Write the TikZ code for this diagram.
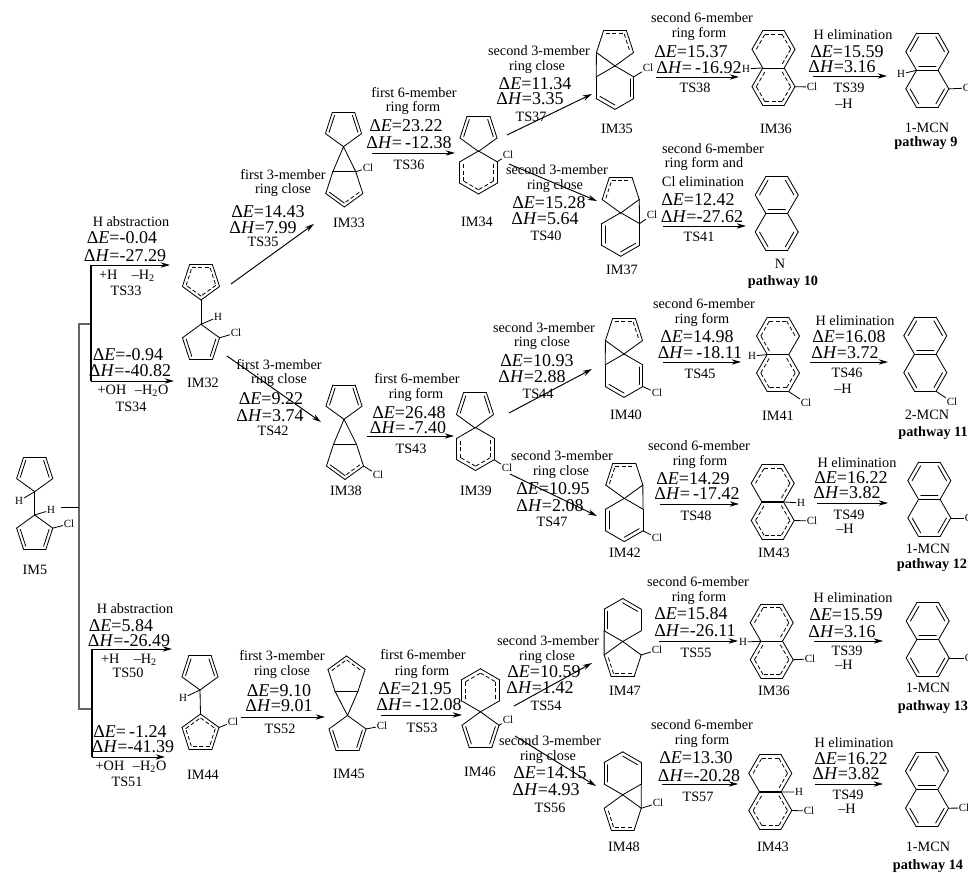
\documentclass[tikz,border=0pt]{standalone}
\usepackage{fontspec}
\setmainfont{Liberation Serif}
\usetikzlibrary{calc,arrows.meta}
\newcounter{lb}
\tikzset{
  bond/.style={line width=0.62pt,black,line cap=round},
  dbond/.style={line width=0.6pt,black,dash pattern=on 3pt off 1.8pt},
  rx/.style={line width=0.72pt,black,-{Stealth[length=7pt,width=4pt]}},
  trunk/.style={line width=0.8pt,black},
  gtrunk/.style={line width=1.3pt,black!60},
  small/.style={inner sep=0pt,font=\fontsize{10.7}{12}\selectfont},
  big/.style={inner sep=0pt,font=\fontsize{13.5}{14}\selectfont},
  boldlab/.style={inner sep=0pt,font=\fontsize{10.7}{12}\selectfont\bfseries},
  atomlab/.style={inner sep=0.6pt,font=\fontsize{8.2}{9}\selectfont}
}
\newcommand{\tlab}[3]{\stepcounter{lb}\node[small] (s\arabic{lb}) at (#1,#2) {#3};}
\newcommand{\blab}[3]{\stepcounter{lb}\node[big] (b\arabic{lb}) at (#1,#2) {#3};}
\newcommand{\plab}[3]{\stepcounter{lb}\node[boldlab] (p\arabic{lb}) at (#1,#2) {#3};}
\newcommand{\enE}[3]{\blab{#1}{#2}{Δ\textit{E}=#3}}
\newcommand{\enH}[3]{\blab{#1}{#2}{Δ\textit{H}=#3}}
\newcommand{\arw}[5]{\coordinate (#1s) at (#2,#3); \coordinate (#1e) at (#4,#5); \draw[rx] (#1s) -- (#1e);}
% name, cx, cy, r, n, start angle, edge types (s solid, d double, h solid + dashed inner)
\newcommand{\rng}[7]{%
  \coordinate (#1c) at (#2,#3);
  \foreach \ii in {1,...,#5} {
    \coordinate (#1\ii) at ({#2+#4*cos(#6+(\ii-1)*360/#5)},{#3+#4*sin(#6+(\ii-1)*360/#5)});
  }
  \foreach \ty [count=\ii] in {#7} {
    \pgfmathtruncatemacro\jj{mod(\ii,#5)+1}
    \draw[bond] (#1\ii) -- (#1\jj);
    \if d\ty \draw[bond] ($(#1\ii)!0.2!(#1c)$) -- ($(#1\jj)!0.2!(#1c)$); \fi
    \if h\ty \draw[dbond] ($(#1\ii)!0.2!(#1c)$) -- ($(#1\jj)!0.2!(#1c)$); \fi
  }
}
\newcommand{\naph}[4]{%
  \rng{#1u}{#2}{#3}{21.5}{6}{0}{s,d,s,d,s,d}
  \rng{#1l}{#2}{#4}{21.5}{6}{0}{d,s,d,s,s,s}
}
\newcommand{\dihyd}[4]{%
  \rng{#1u}{#2}{#3}{21.5}{6}{0}{h,s,s,h,h,h}
  \rng{#1l}{#2}{#4}{21.5}{6}{0}{h,h,h,h,s,h}
}
\newcommand{\atm}[5]{\node[atomlab] (#1) at (#2,#3) {#4}; \draw[bond] (#5) -- (#1);}
\begin{document}
\begin{tikzpicture}[x=0.75pt,y=-0.75pt]
\useasboundingbox (0,0) rectangle (968,873);

% ---------- IM5 and trunks
\rng{ma}{34.7}{472.7}{19}{5}{90}{s,d,s,d,s}
\rng{mb}{34.7}{534}{19}{5}{270}{s,d,s,d,s}
\draw[bond] (ma1) -- (mb1);
\atm{mah}{19}{501}{H}{ma1}
\atm{mbh}{51}{510}{H}{mb1}
\atm{mbc}{69}{524}{Cl}{mb2}
\tlab{35}{570}{IM5}
\coordinate (st) at (61,507.5);
\coordinate (tr1) at (79,324);
\coordinate (tr2) at (79,709);
\coordinate (tr3) at (79,507.5);
\coordinate (tr4) at (91,324);
\coordinate (tr5) at (92,709);
\draw[gtrunk] (tr4) -- (tr1) -- (tr2) -- (tr5);
\draw[trunk] (st) -- (tr3);
\coordinate (v1a) at (91,265);
\coordinate (v1b) at (91,381);
\coordinate (v1c) at (170,265);
\coordinate (v1d) at (174,381);
\draw[trunk] (v1a) -- (v1b);
\draw[rx] (v1a) -- (v1c);
\draw[rx] (v1b) -- (v1d);
\coordinate (v2a) at (92,649);
\coordinate (v2b) at (92,757);
\coordinate (v2c) at (172,649);
\coordinate (v2d) at (165,757);
\draw[trunk] (v2a) -- (v2b);
\draw[rx] (v2a) -- (v2c);
\draw[rx] (v2b) -- (v2d);
\tlab{131}{222}{H abstraction}
\enE{122}{238}{-0.04}
\enH{125}{256}{-27.29}
\tlab{127}{276}{+H\hspace{1em}–H\textsubscript{2}}
\tlab{126}{291}{TS33}
\enE{128}{355}{-0.94}
\enH{130}{371}{-40.82}
\tlab{133}{391}{+OH\hspace{0.6em}–H\textsubscript{2}O}
\tlab{131}{407}{TS34}
\tlab{135}{609}{H abstraction}
\enE{121}{626}{5.84}
\enH{129}{641}{-26.49}
\tlab{129}{660}{+H\hspace{1em}–H\textsubscript{2}}
\tlab{128}{673}{TS50}
\enE{130}{732}{\,-1.24}
\enH{133}{747}{-41.39}
\tlab{131}{767}{+OH\hspace{0.6em}–H\textsubscript{2}O}
\tlab{127}{782}{TS51}

% ---------- IM32
\rng{a}{201}{280.5}{19.5}{5}{90}{h,h,h,h,h}
\rng{b}{201}{343.8}{19.5}{5}{270}{s,d,s,d,s}
\draw[bond] (a1) -- (b1);
\atm{bh}{218}{317}{H}{b1}
\atm{bc}{236}{333}{Cl}{b2}
\tlab{203}{383}{IM32}
\arw{t35}{231}{284}{314}{224}
\tlab{283}{175}{first 3-member}
\tlab{283}{190}{ring close}
\enE{268}{212}{14.43}
\enH{263}{228}{7.99}
\tlab{263}{242}{TS35}
\arw{t42}{227}{356}{321}{422}
\tlab{279}{365}{first 3-member}
\tlab{279}{380}{ring close}
\enE{271}{399}{9.22}
\enH{270}{416}{3.74}
\tlab{273}{431}{TS42}

% ---------- IM33
\rng{c}{343.5}{127.7}{19}{5}{90}{s,d,s,d,s}
\rng{d}{344.3}{187.5}{19.5}{5}{90}{d,s,s,s,h}
\draw[bond] (d3) -- (c1) -- (d4);
\atm{dc}{368}{168}{Cl}{d4}
\tlab{349}{223}{IM33}
\arw{t36}{372}{153}{455}{153}
\tlab{414}{93}{first 6-member}
\tlab{413}{108}{ring form}
\enE{406}{126}{23.22}
\enH{409}{143}{\,-12.38}
\tlab{409}{165}{TS36}

% ---------- IM34
\rng{e}{478.5}{132}{19.5}{5}{90}{s,d,s,d,s}
\rng{f}{478.5}{172.5}{21.5}{6}{270}{s,h,h,h,h,s}
\atm{fc}{508}{155}{Cl}{f2}
\tlab{477}{222}{IM34}
\arw{t37}{507}{135}{592}{94}
\tlab{539}{51}{second 3-member}
\tlab{537}{67}{ring close}
\enE{535}{84}{11.34}
\enH{530}{99}{3.35}
\tlab{531}{117}{TS37}
\arw{t40}{509}{164}{597}{201}
\tlab{557}{170}{second 3-member}
\tlab{555}{186}{ring close}
\enE{549}{203}{15.28}
\enH{545}{219}{5.64}
\tlab{546}{236}{TS40}

% ---------- IM35
\rng{g}{615}{46.5}{19.5}{5}{90}{s,s,h,h,s}
\rng{h}{615}{87.7}{21.7}{6}{270}{s,d,s,d,s,s}
\draw[bond] (g2) -- (h6);
\atm{hc}{648}{68}{Cl}{h2}
\tlab{617}{129}{IM35}
\arw{t38}{656}{77}{739}{77}
\tlab{702}{18}{second 6-member}
\tlab{699}{34}{ring form}
\enE{691}{52}{15.37}
\enH{699}{68}{\,-16.92}
\tlab{695}{88}{TS38}

% ---------- IM36 (top)
\dihyd{i}{773.5}{49.3}{86.7}
\atm{ih}{746}{69}{H}{iu3}
\atm{ic}{812}{87}{Cl}{il1}
\tlab{776}{129}{IM36}
\arw{t39}{813}{76}{887}{76}
\tlab{853}{35}{H elimination}
\enE{847}{52}{15.59}
\enH{842}{67}{3.16}
\tlab{849}{88}{TS39}
\tlab{844}{104}{–H}

% ---------- 1-MCN pathway 9
\naph{j}{927.3}{51.7}{88.9}
\atm{jh}{901}{74}{H}{ju3}
\atm{jc}{968}{88}{Cl}{jl1}
\tlab{927}{128}{1-MCN}
\plab{926}{143}{pathway 9}

% ---------- IM37
\rng{k}{620.7}{193.5}{19.5}{5}{90}{s,h,h,s,s}
\rng{l}{620.7}{234.5}{21.8}{6}{270}{s,s,d,s,d,s}
\draw[bond] (k5) -- (l2);
\atm{lc}{652}{215}{Cl}{l2}
\tlab{622}{270}{IM37}
\arw{t41}{663}{226}{746}{226}
\tlab{713}{149}{second 6-member}
\tlab{704}{164}{ring form and}
\tlab{703}{182}{Cl elimination}
\enE{698}{200}{12.42}
\enH{702}{217}{-27.62}
\tlab{699}{237}{TS41}

% ---------- N pathway 10
\naph{n}{776.7}{195}{232}
\tlab{780}{264}{N}
\plab{783}{282}{pathway 10}

% ---------- IM38
\rng{o}{344}{400.3}{19}{5}{90}{s,d,s,d,s}
\rng{p}{345}{460}{19.5}{5}{90}{d,s,s,s,h}
\draw[bond] (p3) -- (o1) -- (p4);
\atm{pc}{378}{475}{Cl}{p5}
\tlab{346}{491}{IM38}
\arw{t43}{367}{436}{454}{436}
\tlab{417}{379}{first 6-member}
\tlab{416}{395}{ring form}
\enE{409}{413}{26.48}
\enH{408}{428}{\,-7.40}
\tlab{411}{449}{TS43}

% ---------- IM39
\rng{q}{475}{408.5}{19.5}{5}{90}{s,d,s,d,s}
\rng{r}{475.5}{449}{21.5}{6}{270}{s,h,h,h,h,s}
\atm{rc}{507}{468}{Cl}{r3}
\tlab{476}{491}{IM39}
\arw{t44}{509}{413}{592}{369}
\tlab{544}{328}{second 3-member}
\tlab{542}{343}{ring close}
\enE{537}{361}{10.93}
\enH{532}{377}{2.88}
\tlab{538}{394}{TS44}
\arw{t47}{510}{474}{597}{516}
\tlab{562}{456}{second 3-member}
\tlab{561}{472}{ring close}
\enE{553}{489}{10.95}
\enH{550}{506}{2.08}
\tlab{552}{522}{TS47}

% ---------- IM40
\rng{s}{624}{334.5}{19.5}{5}{90}{s,s,h,h,s}
\rng{u}{624}{375.7}{21.7}{6}{270}{s,d,s,d,s,s}
\draw[bond] (s2) -- (u6);
\atm{uc}{657}{393}{Cl}{u3}
\tlab{626}{415}{IM40}
\arw{t45}{663}{362}{741}{362}
\tlab{704}{304}{second 6-member}
\tlab{702}{320}{ring form}
\enE{697}{337}{14.98}
\enH{700}{353}{\,-18.11}
\tlab{700}{374}{TS45}

% ---------- IM41
\rng{vu}{778}{336}{21.5}{6}{0}{s,s,h,h,h,h}
\rng{vl}{778}{373}{21.5}{6}{0}{h,h,h,h,s,h}
\atm{vh}{752}{356}{H}{vu3}
\atm{vc}{806}{403}{Cl}{vl2}
\tlab{778}{416}{IM41}
\arw{t46}{810}{362}{888}{362}
\tlab{855}{321}{H elimination}
\enE{849}{337}{16.08}
\enH{845}{353}{3.72}
\tlab{847}{373}{TS46}
\tlab{843}{389}{–H}

% ---------- 2-MCN pathway 11
\naph{w}{925.3}{335.7}{372.7}
\atm{wc}{952}{402}{Cl}{wl2}
\tlab{927}{415}{2-MCN}
\plab{933}{433}{pathway 11}

% ---------- IM42
\rng{x}{624.3}{479}{19.5}{5}{90}{s,h,h,s,s}
\rng{y}{624.3}{520}{21.6}{6}{270}{s,s,d,s,d,s}
\draw[bond] (x5) -- (y2);
\atm{yc}{657}{538}{Cl}{y3}
\tlab{625}{553}{IM42}
\arw{t48}{660}{504}{739}{504}
\tlab{699}{446}{second 6-member}
\tlab{700}{462}{ring form}
\enE{693}{479}{14.29}
\enH{697}{494}{\,-17.42}
\tlab{696}{516}{TS48}

% ---------- IM43 (row 12)
\dihyd{z}{772.7}{483.3}{520.5}
\atm{zh}{801}{503}{H}{zu2}
\atm{zc}{812}{521}{Cl}{zl1}
\tlab{774}{553}{IM43}
\arw{t49}{817}{503}{888}{503}
\tlab{857}{463}{H elimination}
\enE{851}{478}{16.22}
\enH{847}{493}{3.82}
\tlab{849}{515}{TS49}
\tlab{845}{529}{–H}

% ---------- 1-MCN pathway 12
\naph{aa}{929.3}{480.7}{518}
\atm{aac}{970}{518}{Cl}{aal1}
\tlab{928}{549}{1-MCN}
\plab{932}{565}{pathway 12}

% ---------- IM44
\rng{ab}{200}{671}{19}{5}{90}{s,d,s,d,s}
\rng{ac}{200.5}{733.5}{19.5}{5}{270}{h,h,h,h,h}
\draw[bond] (ab1) -- (ac1);
\atm{abh}{183}{698}{H}{ab1}
\atm{acc}{233}{722}{Cl}{ac2}
\tlab{203}{775}{IM44}
\arw{t52}{241}{717}{325}{717}
\tlab{282}{656}{first 3-member}
\tlab{282}{672}{ring close}
\enE{279}{691}{9.10}
\enH{279}{706}{9.01}
\tlab{280}{729}{TS52}

% ---------- IM45
\rng{ad}{346.5}{675.5}{19.5}{5}{270}{h,s,s,s,h}
\rng{ae}{347.5}{735}{19.5}{5}{270}{s,d,s,d,s}
\draw[bond] (ad3) -- (ae1) -- (ad4);
\atm{aec}{382}{726}{Cl}{ae2}
\tlab{349}{774}{IM45}
\arw{t53}{381}{715}{462}{715}
\tlab{423}{655}{first 6-member}
\tlab{422}{672}{ring form}
\enE{415}{689}{21.95}
\enH{419}{705}{\,-12.08}
\tlab{422}{728}{TS53}

% ---------- IM46
\rng{af}{480.5}{690.3}{21.5}{6}{270}{h,h,s,s,h,h}
\rng{ag}{480.5}{731.3}{19.5}{5}{270}{s,d,s,d,s}
\atm{agc}{508}{720}{Cl}{ag2}
\tlab{480}{772}{IM46}
\arw{t54}{514}{706}{592}{663}
\tlab{548}{641}{second 3-member}
\tlab{547}{657}{ring close}
\enE{544}{672}{10.59}
\enH{540}{688}{1.42}
\tlab{546}{706}{TS54}
\arw{t56}{515}{736}{596}{786}
\tlab{550}{741}{second 3-member}
\tlab{548}{757}{ring close}
\enE{550}{773}{14.15}
\enH{546}{790}{4.93}
\tlab{550}{808}{TS56}

% ---------- IM47
\rng{ah}{622.7}{620}{21.5}{6}{270}{d,s,s,s,d,s}
\rng{ai}{622.7}{661}{19.5}{5}{270}{s,s,h,h,s}
\draw[bond] (ah5) -- (ai5);
\atm{aic}{657}{650}{Cl}{ai2}
\tlab{625}{691}{IM47}
\arw{t55}{659}{641}{738}{641}
\tlab{698}{582}{second 6-member}
\tlab{699}{598}{ring form}
\enE{691}{614}{15.84}
\enH{695}{631}{-26.11}
\tlab{696}{653}{TS55}

% ---------- IM36 (row 13)
\dihyd{aj}{771.7}{622.7}{659.7}
\atm{ajh}{743}{642}{H}{aju3}
\atm{ajc}{810}{659}{Cl}{ajl1}
\tlab{774}{691}{IM36}
\arw{t39b}{814}{641}{883}{641}
\tlab{853}{598}{H elimination}
\enE{846}{615}{15.59}
\enH{842}{632}{3.16}
\tlab{847}{651}{TS39}
\tlab{844}{665}{–H}

% ---------- 1-MCN pathway 13
\naph{ak}{927.7}{621}{658}
\atm{akc}{970}{658}{Cl}{akl1}
\tlab{928}{688}{1-MCN}
\plab{933}{707}{pathway 13}

% ---------- IM48
\rng{al}{622.7}{773.3}{21.5}{6}{270}{d,s,s,s,d,s}
\rng{am}{622.7}{814.3}{19.5}{5}{270}{s,s,h,h,s}
\draw[bond] (al3) -- (am2);
\atm{amc}{658}{803}{Cl}{am2}
\tlab{624}{847}{IM48}
\arw{t57}{662}{784}{738}{784}
\tlab{702}{725}{second 6-member}
\tlab{702}{741}{ring form}
\enE{696}{758}{13.30}
\enH{699}{776}{-20.28}
\tlab{698}{797}{TS57}

% ---------- IM43 (row 14)
\dihyd{an}{770.3}{773.3}{810.5}
\atm{anh}{799}{792}{H}{anu2}
\atm{anc}{809}{811}{Cl}{anl1}
\tlab{773}{847}{IM43}
\arw{t49b}{815}{784}{883}{784}
\tlab{854}{743}{H elimination}
\enE{851}{759}{16.22}
\enH{846}{774}{3.82}
\tlab{848}{795}{TS49}
\tlab{847}{809}{–H}

% ---------- 1-MCN pathway 14
\naph{ao}{927}{771}{808.2}
\atm{aoc}{964}{808}{Cl}{aol1}
\tlab{928}{847}{1-MCN}
\plab{928}{866}{pathway 14}
\end{tikzpicture}
\end{document}
